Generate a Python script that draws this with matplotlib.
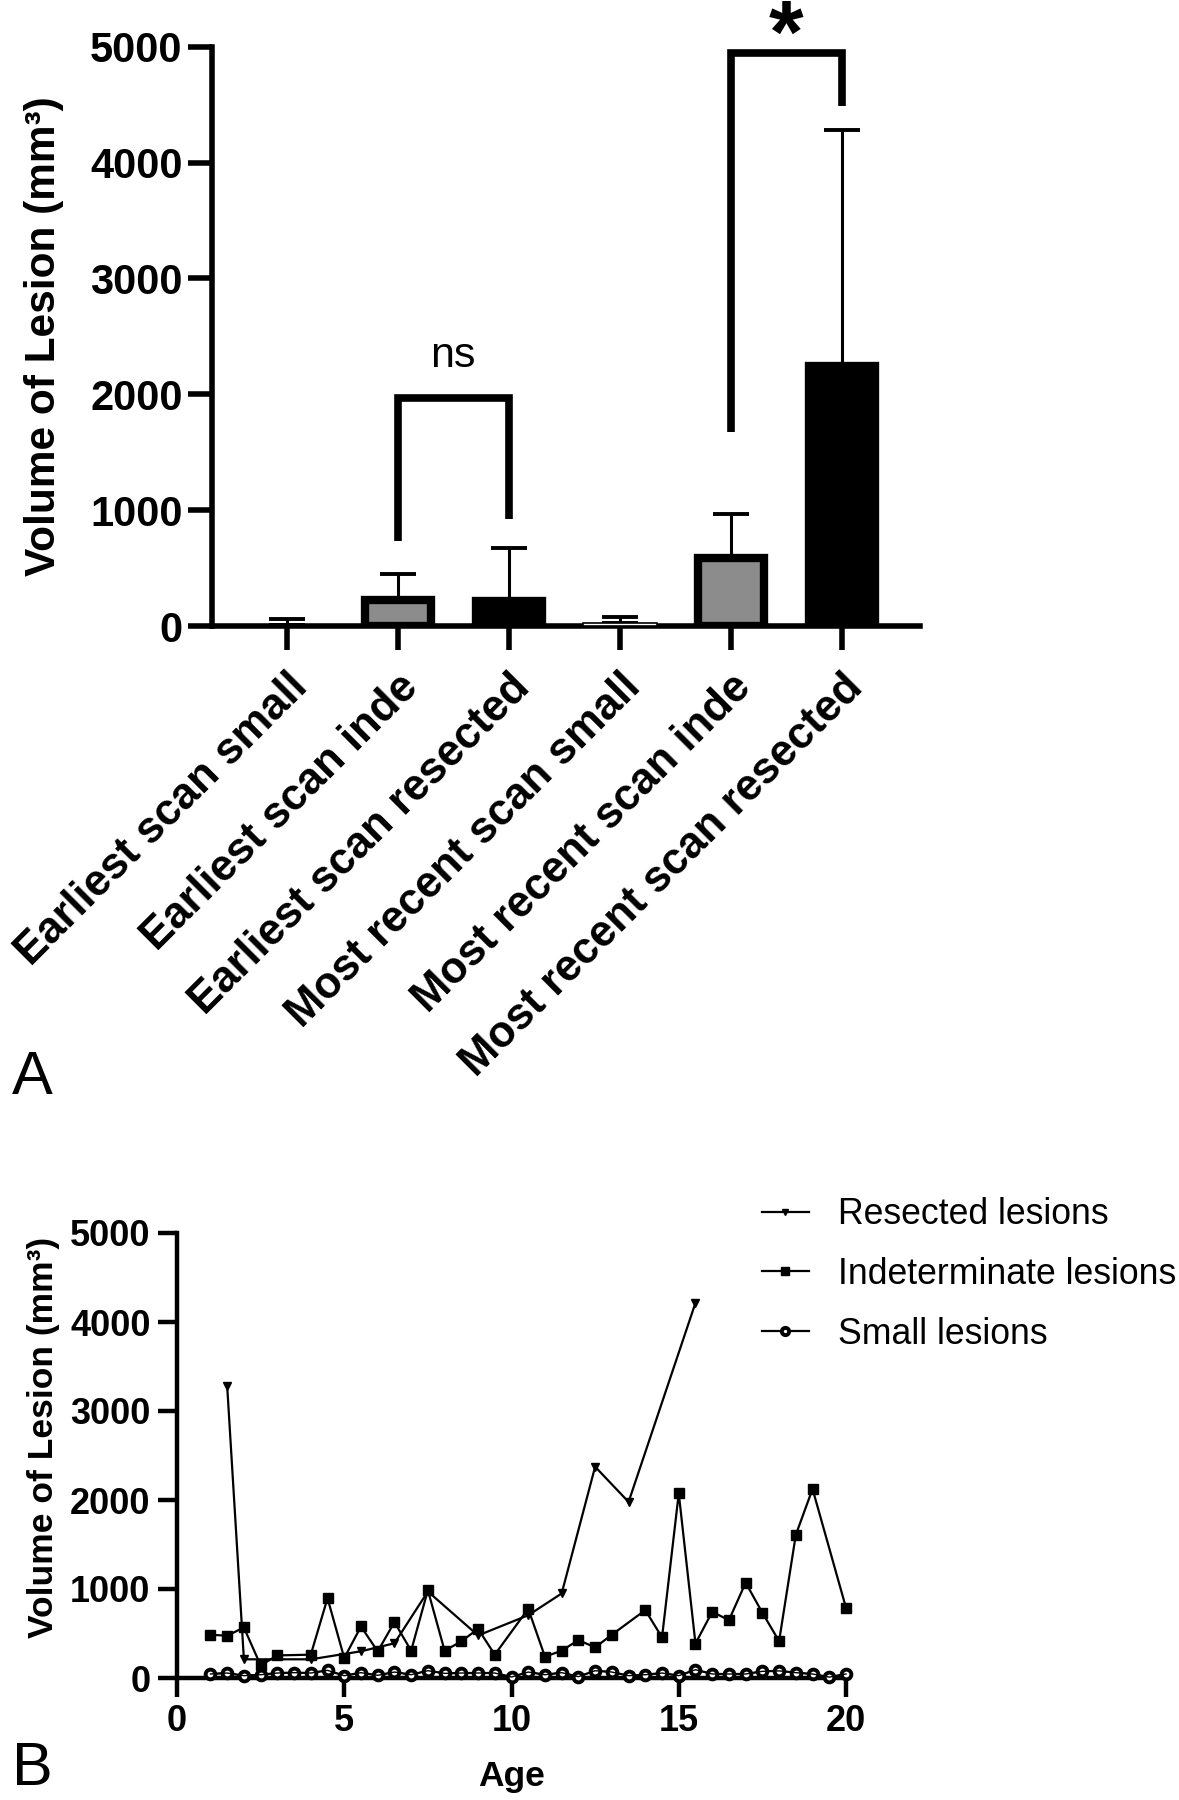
import matplotlib
matplotlib.use('Agg')
import matplotlib.pyplot as plt
import matplotlib.transforms as mtransforms
import numpy as np

plt.rcParams['font.family'] = ['Liberation Sans', 'DejaVu Sans']

# ---------------- data: panel A ----------------
categories = ['Earliest scan small', 'Earliest scan inde', 'Earliest scan resected',
              'Most recent scan small', 'Most recent scan inde', 'Most recent scan resected']
bar_means = [8, 222, 212, 28, 585, 2240]
bar_err_up = [52, 230, 465, 47, 380, 2040]
bar_colors = ['white', '#8c8c8c', 'black', 'white', '#8c8c8c', 'black']

# ---------------- data: panel B ----------------
resected_age = [1.5, 2, 4, 5.5, 6.5, 7.5, 9, 10.5, 11.5, 12.5, 13.5, 15.5]
resected_vol = [3280, 210, 210, 300, 390, 972, 478, 705, 950, 2374, 1978, 4215]

indet_age = [1, 1.5, 2, 2.5, 3, 4, 4.5, 5, 5.5, 6, 6.5, 7, 7.5, 8, 8.5, 9, 9.5,
             10.5, 11, 11.5, 12, 12.5, 13, 14, 14.5, 15, 15.5, 16, 16.5, 17, 17.5,
             18, 18.5, 19, 20]
indet_vol = [486, 475, 568, 142, 254, 262, 897, 224, 579, 299, 628, 307, 987, 307,
             411, 553, 262, 778, 239, 307, 426, 344, 486, 763, 456, 2075, 387, 744,
             650, 1071, 733, 414, 1609, 2124, 789]

small_age = [1, 1.5, 2, 2.5, 3, 3.5, 4, 4.5, 5, 5.5, 6, 6.5, 7, 7.5, 8, 8.5, 9, 9.5,
             10, 10.5, 11, 11.5, 12, 12.5, 13, 13.5, 14, 14.5, 15, 15.5, 16, 16.5,
             17, 17.5, 18, 18.5, 19, 19.5, 20]
small_vol = [45, 56, 26, 37, 56, 60, 56, 86, 26, 60, 30, 67, 37, 82, 52, 56, 56, 56,
             11, 67, 37, 60, 15, 82, 67, 26, 37, 56, 26, 93, 45, 45, 45, 75, 80, 60,
             45, 10, 45]

yticks = [0, 1000, 2000, 3000, 4000, 5000]
xticks_B = [0, 5, 10, 15, 20]

W, H = 1179, 1800
fig = plt.figure(figsize=(W / 100, H / 100), dpi=100)

# ================= Panel A =================
axA = fig.add_axes([211.7 / W, 1 - 626 / H, (920 - 211.7) / W, (626 - 46.7) / H])
x = np.arange(len(categories))
small = [c == 'white' for c in bar_colors]
widths = [0.667 if s else 0.592 for s in small]
lws = [1.2 if s else 6.0 for s in small]
axA.bar(x, bar_means, width=widths, color=bar_colors, edgecolor='black',
        linewidth=lws, zorder=3)
axA.errorbar(x, bar_means, yerr=[np.zeros(len(x)), bar_err_up], fmt='none',
             ecolor='black', elinewidth=2.2, capsize=13, capthick=2.8, zorder=2)

# significance brackets
bk = dict(color='black', lw=5.5, solid_joinstyle='miter', solid_capstyle='butt',
          clip_on=False, zorder=4)
axA.plot([1, 1, 2, 2], [730, 1970, 1970, 923], **bk)
axA.plot([4, 4, 5, 5], [1672, 4945, 4945, 4489], **bk)
axA.text(1.5, 2330, 'ns', ha='center', va='center', fontsize=31)
axA.text(4.5, 4870, '*', ha='center', va='baseline', fontsize=64,
         fontweight='bold', clip_on=False)

axA.set_xlim(-0.676, 5.705)
axA.set_ylim(0, 5000)
axA.set_yticks(yticks)
axA.set_yticklabels([str(v) for v in yticks], fontsize=30, fontweight='bold')
axA.set_xticks(x)
axA.set_xticklabels(categories, rotation=45, ha='right', va='top',
                    rotation_mode='anchor', fontsize=31.5, fontweight='bold')
shift = mtransforms.ScaledTranslation(-6 / 100, -2 / 100, fig.dpi_scale_trans)
for lab in axA.get_xticklabels():
    lab.set_transform(lab.get_transform() + shift)
for s in ['top', 'right']:
    axA.spines[s].set_visible(False)
for s in ['left', 'bottom']:
    axA.spines[s].set_linewidth(4.0)
axA.tick_params(axis='both', length=17, width=4.0, direction='out', pad=4)
axA.tick_params(axis='x', pad=12)
axA.set_ylabel('Volume of Lesion (mm³)', fontsize=30.5, fontweight='bold')
axA.yaxis.set_label_coords(-0.2085, 0.5)

fig.text(12 / W, 1 - 1094 / H, 'A', fontsize=44, ha='left', va='baseline')

# ================= Panel B =================
axB = fig.add_axes([177 / W, 1 - 1678 / H, (846 - 177) / W, (1678 - 1233) / H])
lw_line = 1.6
hR, = axB.plot(resected_age, resected_vol, color='black', lw=lw_line, marker='v',
               ms=6, clip_on=False, zorder=3, label='Resected lesions')
hI, = axB.plot(indet_age, indet_vol, color='black', lw=lw_line, marker='s',
               ms=7, clip_on=False, zorder=4, label='Indeterminate lesions')
hS, = axB.plot(small_age, small_vol, color='black', lw=lw_line, marker='o', ms=7,
               mfc='white', mew=2.8, clip_on=False, zorder=5,
               label='Small lesions')
axB.plot(small_age, small_vol, color='black', lw=1.0, clip_on=False, zorder=6)

axB.set_xlim(0, 20)
axB.set_ylim(0, 5000)
axB.set_xticks(xticks_B)
axB.set_xticklabels([str(v) for v in xticks_B], fontsize=26, fontweight='bold')
axB.set_yticks(yticks)
axB.set_yticklabels([str(v) for v in yticks], fontsize=26, fontweight='bold')
for s in ['top', 'right']:
    axB.spines[s].set_visible(False)
for s in ['left', 'bottom']:
    axB.spines[s].set_linewidth(3.2)
axB.tick_params(axis='both', length=14, width=3.2, direction='out', pad=5)
axB.set_ylabel('Volume of Lesion (mm³)', fontsize=25.5, fontweight='bold')
axB.yaxis.set_label_coords(-0.175, 0.54)
axB.set_xlabel('Age', fontsize=25.5, fontweight='bold')
axB.xaxis.set_label_coords(0.5, -0.222)
axB.xaxis.label.set_va('center')

fig.legend(handles=[hR, hI, hS], loc='upper left',
           bbox_to_anchor=(761.7 / W, 1 - 1197 / H), frameon=False,
           fontsize=25.7, handlelength=1.33, handletextpad=0.8,
           labelspacing=0.7, borderpad=0, borderaxespad=0, markerscale=0.75)

fig.text(12 / W, 1 - 1785 / H, 'B', fontsize=44, ha='left', va='baseline')

fig.savefig('out.png', dpi=100)
